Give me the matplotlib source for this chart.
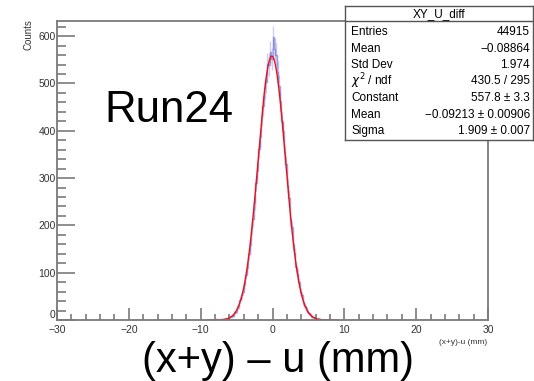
import numpy as np
import matplotlib
matplotlib.use("Agg")
import matplotlib.pyplot as plt
from matplotlib.ticker import MultipleLocator

plt.rcParams['font.family'] = ['Liberation Sans', 'DejaVu Sans']

# ---- data ----
bin_lo = -9.0          # first bin edge (mm)
bin_width = 0.2        # drawn bin width (mm)
counts = [1, 0, 1, 0, 1, 1, 2, 1, 1, 2,
          1, 2, 3, 2, 5, 6, 8, 9, 15, 17,
          26, 29, 42, 52, 60, 74, 96, 110, 139, 158,
          194, 214, 248, 289, 316, 361, 386, 431, 452, 490,
          503, 541, 538, 566, 552, 598, 572, 561, 524, 495,
          463, 421, 399, 352, 329, 284, 258, 214, 196, 160,
          141, 112, 97, 80, 60, 52, 38, 30, 25, 17,
          14, 11, 7, 6, 4, 3, 2, 2, 1, 1,
          1, 0, 1, 1, 0, 1, 0, 1, 0, 1]

fit_constant = 557.8
fit_mean = -0.09213
fit_sigma = 1.909
fit_range = (-9.0, 9.0)

stats_title = "XY_U_diff"
stats_rows = [
    ("Entries", "44915"),
    ("Mean", "\u22120.08864"),
    ("Std Dev", "1.974"),
    ("$\\chi^{2}$ / ndf", "430.5 / 295"),
    ("Constant", "557.8 \u00b1 3.3"),
    ("Mean", "\u22120.09213 \u00b1 0.00906"),
    ("Sigma", "1.909 \u00b1 0.007"),
]

x_ticks = [-30, -20, -10, 0, 10, 20, 30]
y_ticks = [0, 100, 200, 300, 400, 500, 600]

# ---- figure ----
W, H = 534, 381
fig = plt.figure(figsize=(W / 100, H / 100), dpi=100)
L, R, T, B = 57, 488, 21, 320
ax = fig.add_axes([L / W, 1 - B / H, (R - L) / W, (B - T) / H])

counts_arr = np.array(counts, dtype=float)
edges = bin_lo + bin_width * np.arange(len(counts) + 1)
centers = 0.5 * (edges[:-1] + edges[1:])

hist_color = '#5a5ad6'
ax.stairs(counts_arr, edges, color=hist_color, alpha=0.55, lw=1.0)
ax.errorbar(centers, counts_arr, yerr=np.sqrt(counts_arr), fmt='none',
            ecolor=hist_color, alpha=0.3, lw=1.0)

xf = np.linspace(fit_range[0], fit_range[1], 600)
yf = fit_constant * np.exp(-0.5 * ((xf - fit_mean) / fit_sigma) ** 2)
ax.plot(xf, yf, color='#ee1111', lw=1.0)

ax.set_xlim(-30, 30)
ax.set_ylim(0, 632)
ax.set_xticks(x_ticks)
ax.set_yticks(y_ticks)
ax.xaxis.set_minor_locator(MultipleLocator(2))
ax.yaxis.set_minor_locator(MultipleLocator(20))
frame_col = '#7a7a7a'
for s in ax.spines.values():
    s.set_color(frame_col)
    s.set_linewidth(1.3)
ax.tick_params(axis='both', which='both', direction='in', color=frame_col,
               width=1.2, labelsize=7.5, labelcolor='#333333')
ax.tick_params(axis='x', which='major', length=9, pad=3.5)
ax.tick_params(axis='x', which='minor', length=4.5)
ax.tick_params(axis='y', which='major', length=13, pad=1)
ax.tick_params(axis='y', which='minor', length=6.5)
ax.tick_params(top=False, right=False)
# lift the "0" label of the y axis slightly, as in the reference
for lab in ax.get_yticklabels():
    if lab.get_text() in ("0",):
        lab.set_va('bottom')

# axis titles
fig.text(28 / W, 1 - 19 / H, "Counts", rotation=90, ha='center', va='top',
         fontsize=7, color='#333333')
fig.text(487 / W, 1 - 344 / H, "(x+y)-u (mm)", ha='right', va='baseline',
         fontsize=6, color='#333333')

# annotations
fig.text(104 / W, 1 - 122 / H, "Run24", ha='left', va='baseline',
         fontsize=31.5, color='black')
fig.text(278.5 / W, 1 - 372 / H, "(x+y) \u2013 u (mm)", ha='center',
         va='baseline', fontsize=30, color='black')

# stats box
bx0, bx1, by0, by1 = 345, 533, 6, 140
box_ax = fig.add_axes([bx0 / W, 1 - by1 / H, (bx1 - bx0) / W, (by1 - by0) / H])
box_ax.set_xlim(bx0, bx1)
box_ax.set_ylim(by1, by0)
box_ax.set_xticks([])
box_ax.set_yticks([])
box_ax.set_facecolor('white')
for s in box_ax.spines.values():
    s.set_color('#555555')
    s.set_linewidth(1.0)
box_ax.axhline(21, color='#555555', lw=1.0)
box_ax.text((bx0 + bx1) / 2, 14, stats_title, ha='center', va='center',
            fontsize=8.5, color='black')
row_y0, row_dy = 32, 16.5
for i, (k, v) in enumerate(stats_rows):
    y = row_y0 + i * row_dy
    box_ax.text(bx0 + 6, y, k, ha='left', va='center', fontsize=8.5, color='black')
    box_ax.text(bx1 - 3, y, v, ha='right', va='center', fontsize=8.5, color='black')

fig.savefig("out.png", dpi=100)
